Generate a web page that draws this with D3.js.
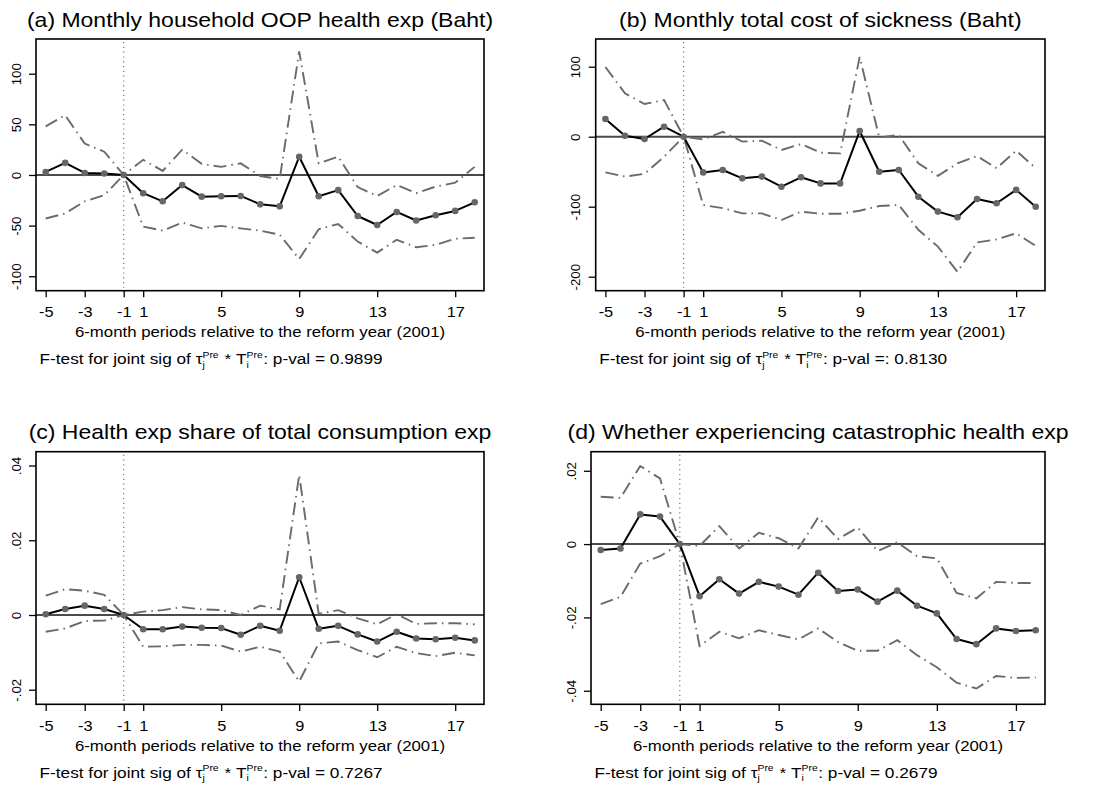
<!DOCTYPE html>
<html>
<head>
<meta charset="utf-8">
<script src="https://cdn.jsdelivr.net/npm/d3@7"></script>
<style>
  body { margin: 0; background: #fff; }
  svg { display: block; }
  text { font-family: "Liberation Sans", Arial, Helvetica, sans-serif; fill: #000; }
</style>
</head>
<body>
<svg id="chart" width="1110" height="787"></svg>
<script>
// Event-study periods (6-month periods, period 0 omitted) and axis ticks
const periods = [-5, -4, -3, -2, -1, 1, 2, 3, 4, 5, 6, 7, 8, 9, 10, 11, 12, 13, 14, 15, 16, 17, 18];
const periodTicks = [-5, -3, -1, 1, 5, 9, 13, 17];
const xAxisTitle = "6-month periods relative to the reform year (2001)";

// (a) Monthly household OOP health expenditure (Baht)
const oopEst = [3, 12, 2, 1.5, 0, -18, -26, -10, -21.4, -21, -20.7, -29, -31, 18, -21, -15, -40.5, -49.4, -36.5, -45, -39.8, -35.5, -27];
const oopHi  = [48, 59, 31, 23, 0, 15, 4, 25, 11, 8, 11.5, -1, -4, 122, 11.5, 18, -12, -20.7, -10, -18, -11.5, -7.6, 8];
const oopLo  = [-43, -38, -26, -20, 0, -51, -55, -47, -52.7, -50.3, -52.7, -55, -59, -83, -53.6, -48.4, -65.8, -76.7, -64, -71.4, -69, -63, -62];
const oopTicks = [-100, -50, 0, 50, 100];
const oopTickLabels = ["-100", "-50", "0", "50", "100"];

// (b) Monthly total cost of sickness (Baht)
const sickEst = [25.3, 1.4, -3.3, 14.3, 0, -51, -47.6, -59.5, -57, -71.4, -58, -66.7, -66.7, 8.1, -50, -47.6, -85.7, -107, -115, -89, -95, -76, -100];
const sickHi  = [99.6, 62, 46.7, 52.4, 0, -3.8, 7, -7, -5.7, -19, -10.5, -22.8, -23.8, 114, -1, 2.4, -38, -56, -38, -27.6, -45, -20, -45];
const sickLo  = [-51, -57, -53, -28.6, 0, -97.6, -102, -109.5, -109.5, -119, -107, -110, -110, -105.7, -99, -97.6, -133, -157, -193, -151, -146.6, -138, -156];
const sickTicks = [-200, -100, 0, 100];
const sickTickLabels = ["-200", "-100", "0", "100"];

// (c) Health expenditure share of total consumption expenditure
const shareEst = [0.0002, 0.0016, 0.0025, 0.0016, 0, -0.0038, -0.0038, -0.0031, -0.0034, -0.0035, -0.0053, -0.0029, -0.0042, 0.0101, -0.0037, -0.0029, -0.0052, -0.0071, -0.0045, -0.0063, -0.0065, -0.0061, -0.0068];
const shareHi  = [0.0052, 0.0069, 0.0065, 0.0054, 0, 0.0009, 0.0013, 0.0021, 0.0015, 0.0013, 0.0, 0.0025, 0.0015, 0.0375, 0.0003, 0.0013, -0.0009, -0.0025, 0.0002, -0.0024, -0.0022, -0.0022, -0.0025];
const shareLo  = [-0.0045, -0.0036, -0.0016, -0.0015, 0, -0.0085, -0.0084, -0.008, -0.008, -0.0082, -0.0098, -0.0085, -0.0098, -0.0178, -0.0076, -0.0071, -0.0094, -0.0113, -0.0085, -0.0102, -0.011, -0.0101, -0.0108];
const shareTicks = [-0.02, 0, 0.02, 0.04];
const shareTickLabels = ["-.02", "0", ".02", ".04"];

// (d) Whether experiencing catastrophic health expenditure
const catEst = [-0.0016, -0.0012, 0.0081, 0.0075, 0, -0.0142, -0.0096, -0.0135, -0.0103, -0.0116, -0.0138, -0.0078, -0.0128, -0.0124, -0.0157, -0.0127, -0.0168, -0.0189, -0.0259, -0.0273, -0.023, -0.0237, -0.0235];
const catHi  = [0.0129, 0.0126, 0.0213, 0.0179, 0, -0.0005, 0.0049, -0.0012, 0.0031, 0.0016, -0.0012, 0.0073, 0.0014, 0.0045, -0.0019, 0.0005, -0.0033, -0.0039, -0.0133, -0.0148, -0.0103, -0.0106, -0.0106];
const catLo  = [-0.0164, -0.0144, -0.0053, -0.0033, 0, -0.0278, -0.0239, -0.0257, -0.0235, -0.0248, -0.026, -0.023, -0.0267, -0.0291, -0.0291, -0.0262, -0.0303, -0.0336, -0.0378, -0.0394, -0.036, -0.0365, -0.0364];
const catTicks = [-0.04, -0.02, 0, 0.02];
const catTickLabels = ["-.04", "-.02", "0", ".02"];

const panelTitles = [
  "(a) Monthly household OOP health exp (Baht)",
  "(b) Monthly total cost of sickness (Baht)",
  "(c) Health exp share of total consumption exp",
  "(d) Whether experiencing catastrophic health exp"
];
const pValueTexts = [": p-val = 0.9899", ": p-val =: 0.8130", ": p-val = 0.7267", ": p-val = 0.2679"];

// Panel table assembled from the arrays above
const panels = [
  { title: panelTitles[0], est: oopEst, hi: oopHi, lo: oopLo, ticks: oopTicks, tickLabels: oopTickLabels, yDomain: [-114.3, 134.3], pText: pValueTexts[0], frame: { x0: 36, x1: 484, y0: 39, y1: 290.7 } },
  { title: panelTitles[1], est: sickEst, hi: sickHi, lo: sickLo, ticks: sickTicks, tickLabels: sickTickLabels, yDomain: [-220, 139.6], pText: pValueTexts[1], frame: { x0: 595.7, x1: 1045, y0: 39, y1: 290.7 } },
  { title: panelTitles[2], est: shareEst, hi: shareHi, lo: shareLo, ticks: shareTicks, tickLabels: shareTickLabels, yDomain: [-0.0239, 0.0437], pText: pValueTexts[2], frame: { x0: 36, x1: 484, y0: 451.7, y1: 704.3 } },
  { title: panelTitles[3], est: catEst, hi: catHi, lo: catLo, ticks: catTicks, tickLabels: catTickLabels, yDomain: [-0.0437, 0.0252], pText: pValueTexts[3], frame: { x0: 591, x1: 1045, y0: 451.7, y1: 704.3 } }
];

const SX = 1.15;           // horizontal text stretch
const CI_COLOR = "#6a6a6a";
const svg = d3.select("#chart");

function drawPanel(p) {
  const f = p.frame;
  const g = svg.append("g");

  const x = d3.scalePoint().domain(periods).range([f.x0 + 9.7, f.x1 - 9.3]).padding(0);
  const y = d3.scaleLinear().domain(p.yDomain).range([f.y1, f.y0]);

  // zero reference line
  g.append("line")
    .attr("x1", f.x0).attr("x2", f.x1)
    .attr("y1", y(0)).attr("y2", y(0))
    .attr("stroke", "#4a4a4a").attr("stroke-width", 2);

  // reform marker at period -1
  g.append("line")
    .attr("x1", x(-1)).attr("x2", x(-1))
    .attr("y1", f.y0 + 3).attr("y2", f.y1 - 3)
    .attr("stroke", "#777").attr("stroke-width", 1.2)
    .attr("stroke-dasharray", "1.2,3.6");

  const line = d3.line().x((d, i) => x(periods[i])).y(d => y(d));

  // confidence bounds
  [p.hi, p.lo].forEach(arr => {
    g.append("path")
      .attr("d", line(arr))
      .attr("fill", "none")
      .attr("stroke", CI_COLOR)
      .attr("stroke-width", 1.9)
      .attr("stroke-dasharray", "13,5,1.5,5");
  });

  // point estimates
  g.append("path")
    .attr("d", line(p.est))
    .attr("fill", "none")
    .attr("stroke", "#000")
    .attr("stroke-width", 2)
    .attr("stroke-linejoin", "round");

  g.selectAll("circle.pt")
    .data(p.est)
    .join("circle")
    .attr("class", "pt")
    .attr("cx", (d, i) => x(periods[i]))
    .attr("cy", d => y(d))
    .attr("r", 3.3)
    .attr("fill", "#666");

  // plot frame
  g.append("rect")
    .attr("x", f.x0).attr("y", f.y0)
    .attr("width", f.x1 - f.x0).attr("height", f.y1 - f.y0)
    .attr("fill", "none").attr("stroke", "#000").attr("stroke-width", 1.6);

  // y axis
  const yAxis = g.append("g")
    .attr("transform", `translate(${f.x0},0)`)
    .call(d3.axisLeft(y).tickValues(p.ticks).tickSize(7).tickPadding(0)
      .tickFormat((d, i) => p.tickLabels[i]));
  yAxis.select(".domain").remove();
  yAxis.selectAll(".tick line").attr("stroke", "#000").attr("stroke-width", 1.3);
  yAxis.selectAll(".tick text")
    .attr("transform", "rotate(-90)")
    .attr("x", 0).attr("y", -15.5).attr("dy", 0)
    .attr("text-anchor", "middle")
    .attr("font-size", 13.3)
    .attr("font-family", "Liberation Sans, Arial, sans-serif")
    .attr("fill", "#000");

  // x axis
  const xAxis = g.append("g")
    .attr("transform", `translate(0,${f.y1})`)
    .call(d3.axisBottom(x).tickValues(periodTicks).tickSize(6.6).tickPadding(0));
  xAxis.select(".domain").remove();
  xAxis.selectAll(".tick line").attr("stroke", "#000").attr("stroke-width", 1.3);
  xAxis.selectAll(".tick text")
    .attr("y", 0).attr("dy", 0)
    .attr("transform", `translate(0,26.3) scale(${SX},1)`)
    .attr("font-size", 14.2)
    .attr("font-family", "Liberation Sans, Arial, sans-serif")
    .attr("fill", "#000");

  const cx = (f.x0 + f.x1) / 2;

  // panel title
  g.append("text")
    .attr("transform", `translate(${cx},${f.y0 - 12.3}) scale(${SX},1)`)
    .attr("text-anchor", "middle")
    .attr("font-size", 20)
    .text(p.title);

  // x axis title
  g.append("text")
    .attr("transform", `translate(${cx},${f.y1 + 46.5}) scale(${SX},1)`)
    .attr("text-anchor", "middle")
    .attr("font-size", 14.6)
    .text(xAxisTitle);

  // F-test note with sub/superscripts
  const note = g.append("g")
    .attr("transform", `translate(${f.x0 + 3.5},${f.y1 + 73.5}) scale(${SX},1)`);
  let nx = 0;
  const piece = (str, size, dy) => {
    const t = note.append("text").attr("x", nx).attr("y", dy).attr("font-size", size).text(str);
    return t.node().getComputedTextLength();
  };
  nx += piece("F-test for joint sig of \u03c4", 15, 0);
  nx += Math.max(piece("j", 9, 3.5), piece("Pre", 9, -6.5)) + 1;
  nx += piece("\u00a0*\u00a0T", 15, 0);
  nx += Math.max(piece("i", 9, 3.5), piece("Pre", 9, -6.5)) + 0.5;
  piece(p.pText.replace(/ /g, "\u00a0"), 15, 0);
}

panels.forEach(drawPanel);
</script>
</body>
</html>
